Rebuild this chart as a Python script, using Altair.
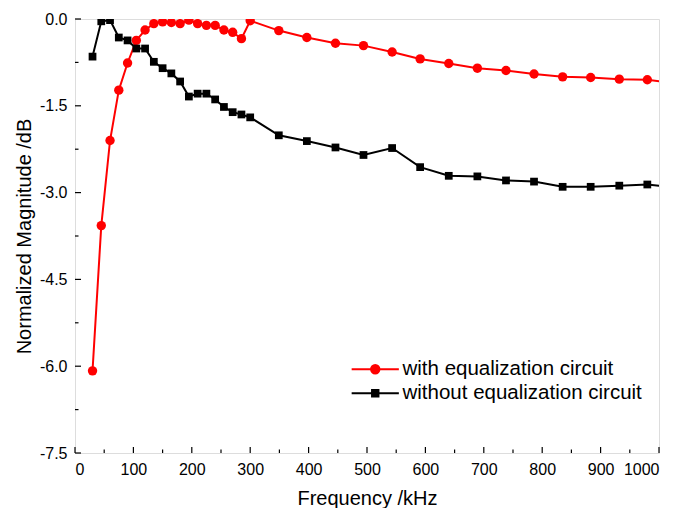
import altair as alt
import pandas as pd

# ---- data ----
freq = [30, 45, 60, 75, 90, 105, 120, 135, 150, 165, 180, 195, 210, 225, 240,
        255, 270, 285, 300, 349, 397, 446, 494, 543, 591, 640, 689, 738, 786,
        835, 883, 932, 980, 1029]
with_eq = [-6.08, -3.57, -2.10, -1.23, -0.76, -0.37, -0.19, -0.08, -0.05, -0.06,
           -0.08, -0.02, -0.08, -0.11, -0.11, -0.19, -0.23, -0.34, -0.03, -0.20,
           -0.32, -0.42, -0.46, -0.57, -0.69, -0.77, -0.85, -0.89, -0.95, -1.00,
           -1.01, -1.04, -1.05, -1.11]
without_eq = [-0.65, -0.04, -0.02, -0.32, -0.37, -0.51, -0.51, -0.74, -0.85, -0.94,
              -1.08, -1.34, -1.29, -1.29, -1.39, -1.52, -1.61, -1.65, -1.70, -2.01,
              -2.11, -2.22, -2.35, -2.23, -2.56, -2.71, -2.72, -2.79, -2.81, -2.90,
              -2.90, -2.88, -2.86, -2.91]
series_names = ["with equalization circuit", "without equalization circuit"]
series_colors = ["#ff0000", "#000000"]
series_shapes = ["circle", "square"]
series_sizes = [88, 60]

x_major = [0, 100, 200, 300, 400, 500, 600, 700, 800, 900, 1000]
x_minor = [50, 150, 250, 350, 450, 550, 650, 750, 850, 950]
y_major = [0.0, -1.5, -3.0, -4.5, -6.0, -7.5]
y_minor = [-0.75, -2.25, -3.75, -5.25, -6.75]

W, H = 584, 434
FONT = "Liberation Sans"

xs = alt.Scale(domain=[0, 1000], nice=False, zero=False)
ys = alt.Scale(domain=[-7.5, 0], nice=False, zero=False)

X = alt.X("freq:Q", scale=xs, title="Frequency /kHz",
          axis=alt.Axis(values=x_major, format="d", ticks=False, domain=False, grid=False,
                        labelFontSize=16, labelPadding=8, labelFont=FONT,
                        labelColor="black", titleFont=FONT, titleFontSize=20,
                        titleFontWeight="normal", titleColor="black", titlePadding=11))
Y = alt.Y("mag:Q", scale=ys, title="Normalized Magnitude /dB",
          axis=alt.Axis(values=y_major, ticks=False, domain=False, grid=False,
                        labelExpr="(datum.value < 0 ? '-' : '') + format(abs(datum.value), '.1f')",
                        labelFontSize=16, labelPadding=8, labelFont=FONT,
                        labelColor="black", titleFont=FONT, titleFontSize=20,
                        titleFontWeight="normal", titleColor="black", titlePadding=5))

legend_paths = [
    "M-5.9,0H5.9M-1.05,0A1.05,1.05,0,1,1,1.05,0A1.05,1.05,0,1,1,-1.05,0Z",
    "M-5.9,0H5.9M-0.8,-0.8H0.8V0.8H-0.8Z",
]
legend_y = [340, 364]

series_layers = []
for i, name in enumerate(series_names):
    d = pd.DataFrame({"freq": freq, "mag": [with_eq, without_eq][i], "series": name})
    color = alt.Color(
        "series:N",
        scale=alt.Scale(domain=[name], range=[series_colors[i]]),
        legend=alt.Legend(
            title=None, orient="none", legendX=290, legendY=legend_y[i],
            labelFont=FONT, labelFontSize=20.5, labelColor="black", labelLimit=500,
            symbolType=legend_paths[i], symbolSize=64, labelOffset=17, padding=0,
            symbolFillColor=series_colors[i], symbolStrokeColor=series_colors[i],
            symbolStrokeWidth=2, symbolOpacity=1,
        ),
    )
    b = alt.Chart(d)
    line = b.mark_line(strokeWidth=2, clip=True).encode(x=X, y=Y, color=color)
    pts = b.mark_point(filled=True, opacity=1, clip=True, shape=series_shapes[i],
                       size=series_sizes[i]).encode(x=X, y=Y, color=color)
    series_layers.append(alt.layer(line, pts))

def tick_layer(values, col, length):
    d = pd.DataFrame({col: values})
    m = alt.Chart(d).mark_rule(color="black", strokeWidth=1.2)
    if col == "freq":
        return m.encode(x=X, y=alt.value(H), y2=alt.value(H - length))
    return m.encode(y=Y, x=alt.value(0), x2=alt.value(length))

ticks = [tick_layer(x_major, "freq", 6), tick_layer(x_minor, "freq", 3.5),
         tick_layer(y_major, "mag", 6), tick_layer(y_minor, "mag", 3.5)]

chart = alt.layer(*series_layers, *ticks).resolve_scale(color="independent").properties(
    width=W, height=H,
    autosize=alt.AutoSizeParams(type="none"),
    padding={"left": 67, "top": 11, "right": 11, "bottom": 55},
).configure_view(stroke="black", strokeWidth=1.3).configure(font=FONT)

chart.save("out.html", embed_options={"renderer": "svg", "actions": False})
